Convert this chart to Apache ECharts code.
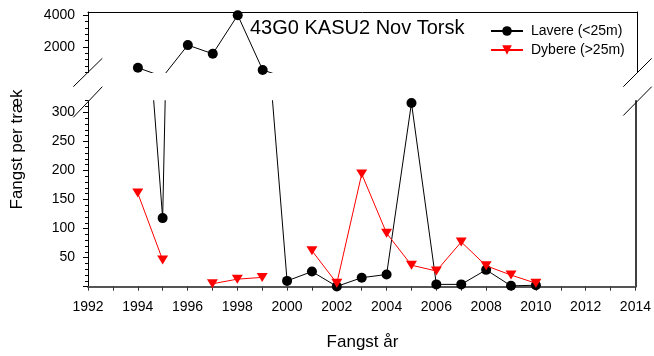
<!DOCTYPE html>
<html>
<head>
<meta charset="utf-8">
<script src="https://cdn.jsdelivr.net/npm/echarts@6/dist/echarts.min.js"></script>
<style>
html,body{margin:0;padding:0;background:#fff;}
#chart{width:654px;height:356px;}
</style>
</head>
<body>
<div id="chart"></div>
<script>
// ---- data ----
const years   = [1994, 1995, 1996, 1997, 1998, 1999, 2000, 2001, 2002, 2003, 2004, 2005, 2006, 2007, 2008, 2009, 2010];
const lavere  = [680, 118, 2110, 1560, 4000, 540, 10, 26, 0.5, 15.5, 21, 316, 4, 4, 29, 1.5, 2.5];
const dybere  = [161, 46, null, 5, 13, 16, null, 62, 6, 194, 92, 37, 27, 77, 36, 20, 6];
const xTickLabels     = [1992, 1994, 1996, 1998, 2000, 2002, 2004, 2006, 2008, 2010, 2012, 2014];
const upperTickLabels = [2000, 4000];
const lowerTickLabels = [50, 100, 150, 200, 250, 300];
const title = '43G0 KASU2 Nov Torsk';
const seriesNames = ['Lavere (<25m)', 'Dybere (>25m)'];
const yName = 'Fangst per træk';
const xName = 'Fangst år';

// axis ranges of the broken y axis
const upperMin = 380, upperMax = 4200, upperMinorStep = 400;
const lowerMin = 0, lowerMax = 320, lowerMinorStep = 10, lowerMajorStep = 50;

const pairs = (vals) => years.map((y, i) => [y, vals[i]]);

const upperMinor = [];
for (let v = upperMinorStep; v <= 4000; v += upperMinorStep) if (v > upperMin && upperTickLabels.indexOf(v) < 0) upperMinor.push(v);
const lowerMajor = [];
for (let v = lowerMin; v <= 300; v += lowerMajorStep) lowerMajor.push(v);
const lowerMinor = [];
for (let v = lowerMinorStep; v <= lowerMax; v += lowerMinorStep) if (v % lowerMajorStep !== 0) lowerMinor.push(v);

const FONT = '"Liberation Sans", Arial, sans-serif';
const chart = echarts.init(document.getElementById('chart'), null, {renderer: 'canvas'});
const plain = (v) => String(v);

const option = {
  animation: false,
  backgroundColor: '#fff',
  textStyle: {fontFamily: FONT},
  grid: [
    {left: 88, right: 17, top: 12, height: 60.5},
    {left: 88, right: 17, top: 100.7, height: 186}
  ],
  xAxis: [
    {gridIndex: 0, type: 'value', position: 'top', min: 1992, max: 2014, interval: 2,
     axisLine: {show: true, lineStyle: {color: '#000', width: 1}},
     axisTick: {show: false}, axisLabel: {show: false}, splitLine: {show: false}},
    {gridIndex: 1, type: 'value', position: 'bottom', min: 1992, max: 2014, interval: 2,
     axisLine: {show: true, lineStyle: {color: '#555', width: 2}},
     axisTick: {show: true, length: 4, lineStyle: {color: '#333', width: 1}},
     minorTick: {show: true, splitNumber: 2, length: 4, lineStyle: {color: '#333', width: 1}},
     axisLabel: {show: true, fontSize: 14, color: '#000', margin: 13, fontFamily: FONT,
                 formatter: (v) => xTickLabels.indexOf(v) >= 0 ? String(v) : ''},
     splitLine: {show: false}}
  ],
  yAxis: [
    // 0: upper left (main)
    {gridIndex: 0, type: 'value', position: 'left', min: upperMin, max: upperMax,
     axisLine: {show: true, onZero: false, lineStyle: {color: '#000', width: 1}},
     axisTick: {show: true, length: 5, customValues: upperTickLabels, lineStyle: {color: '#000'}},
     axisLabel: {show: true, customValues: upperTickLabels, formatter: plain, fontSize: 14, color: '#000', margin: 13, fontFamily: FONT},
     splitLine: {show: false}},
    // 1: upper left minor ticks
    {gridIndex: 0, type: 'value', position: 'left', min: upperMin, max: upperMax,
     axisLine: {show: false},
     axisTick: {show: true, length: 3, customValues: upperMinor, lineStyle: {color: '#000'}},
     axisLabel: {show: false}, splitLine: {show: false}},
    // 2: lower left (main)
    {gridIndex: 1, type: 'value', position: 'left', min: lowerMin, max: lowerMax,
     axisLine: {show: true, onZero: false, lineStyle: {color: '#000', width: 1}},
     axisTick: {show: true, length: 5, customValues: lowerMajor, lineStyle: {color: '#000'}},
     axisLabel: {show: true, customValues: lowerTickLabels, formatter: plain, fontSize: 14, color: '#000', margin: 13, fontFamily: FONT},
     splitLine: {show: false}},
    // 3: lower left minor ticks
    {gridIndex: 1, type: 'value', position: 'left', min: lowerMin, max: lowerMax,
     axisLine: {show: false},
     axisTick: {show: true, length: 3, customValues: lowerMinor, lineStyle: {color: '#000'}},
     axisLabel: {show: false}, splitLine: {show: false}},
    // 4: upper right border
    {gridIndex: 0, type: 'value', position: 'right', min: upperMin, max: upperMax,
     axisLine: {show: true, onZero: false, lineStyle: {color: '#000', width: 1}},
     axisTick: {show: false}, axisLabel: {show: false}, splitLine: {show: false}},
    // 5: lower right border
    {gridIndex: 1, type: 'value', position: 'right', min: lowerMin, max: lowerMax,
     axisLine: {show: true, onZero: false, lineStyle: {color: '#000', width: 1.5}},
     axisTick: {show: false}, axisLabel: {show: false}, splitLine: {show: false}}
  ],
  legend: {
    show: true, orient: 'vertical', left: 485, top: 19,
    itemWidth: 32, itemHeight: 12, itemGap: 5,
    data: seriesNames,
    textStyle: {fontSize: 14, color: '#000', fontFamily: FONT, padding: [0, 0, 0, 3]}
  },
  series: [
    {name: seriesNames[0], type: 'line', xAxisIndex: 0, yAxisIndex: 0, data: pairs(lavere),
     clip: true, symbol: 'circle', symbolSize: 10, color: '#000',
     itemStyle: {color: '#000'}, lineStyle: {color: '#000', width: 1}, z: 3},
    {name: seriesNames[0], type: 'line', xAxisIndex: 1, yAxisIndex: 2, data: pairs(lavere),
     clip: true, symbol: 'circle', symbolSize: 10, color: '#000',
     itemStyle: {color: '#000'}, lineStyle: {color: '#000', width: 1}, z: 3},
    {name: seriesNames[1], type: 'line', xAxisIndex: 1, yAxisIndex: 2, data: pairs(dybere),
     clip: true, connectNulls: false, symbol: 'triangle', symbolRotate: 180, symbolSize: [11, 9],
     color: '#ff0000', itemStyle: {color: '#ff0000'}, lineStyle: {color: '#ff0000', width: 1}, z: 4}
  ],
  graphic: [
    {type: 'text', x: 250, y: 28, silent: true,
     style: {text: title, fontSize: 20, fontFamily: FONT, fill: '#000', align: 'left', verticalAlign: 'middle'}},
    {type: 'text', x: 17, y: 149.5, rotation: Math.PI / 2, silent: true,
     style: {text: yName, fontSize: 17, fontFamily: FONT, fill: '#000', align: 'center', verticalAlign: 'middle'}},
    {type: 'text', x: 362.5, y: 342.5, silent: true,
     style: {text: xName, fontSize: 17, fontFamily: FONT, fill: '#000', align: 'center', verticalAlign: 'middle'}},
    // axis break marks
    {type: 'line', silent: true, shape: {x1: 73.3, y1: 86.7, x2: 102.3, y2: 58.3}, style: {stroke: '#000', lineWidth: 1}},
    {type: 'line', silent: true, shape: {x1: 73.3, y1: 117.3, x2: 102.3, y2: 86.7}, style: {stroke: '#000', lineWidth: 1}},
    {type: 'line', silent: true, shape: {x1: 623.3, y1: 86.7, x2: 651.7, y2: 58.3}, style: {stroke: '#000', lineWidth: 1}},
    {type: 'line', silent: true, shape: {x1: 623.3, y1: 115.5, x2: 651.7, y2: 86.7}, style: {stroke: '#000', lineWidth: 1}}
  ]
};
chart.setOption(option);
</script>
</body>
</html>
